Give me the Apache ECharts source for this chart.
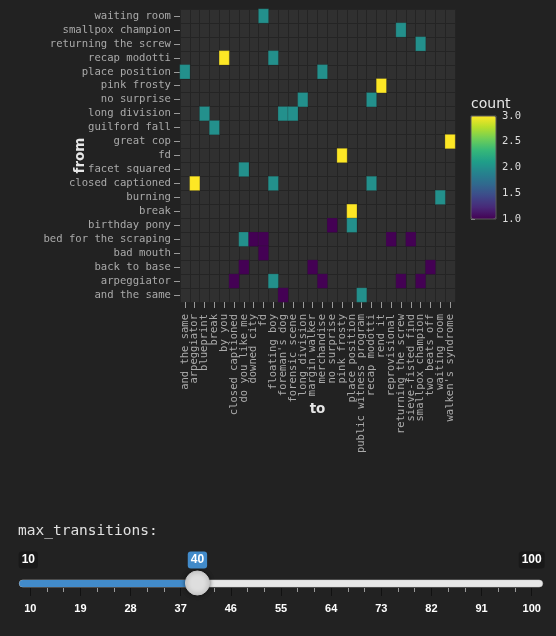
<!DOCTYPE html>
<html>
<head>
<meta charset="utf-8">
<style>
  html, body { margin: 0; padding: 0; background: #222222; }
  #chart { width: 556px; height: 636px; }
</style>
<script src="https://cdn.jsdelivr.net/npm/echarts@6/dist/echarts.min.js"></script>
</head>
<body>
<div id="chart"></div>
<script>
// ---- data ----
const toCategories = ["and the same", "arpeggiator", "blueprint", "break", "by you", "closed captioned",
  "do you like me", "downed city", "fd", "floating boy", "foreman's dog", "forensic scene",
  "long division", "margin walker", "merchandise", "no surprise", "pink frosty", "place position",
  "public witness program", "recap modotti", "rend it", "reprovisional", "returning the screw",
  "sieve-fisted find", "smallpox champion", "two beats off", "waiting room", "walken's syndrome"];

const fromCategories = ["and the same", "arpeggiator", "back to base", "bad mouth", "bed for the scraping",
  "birthday pony", "break", "burning", "closed captioned", "facet squared", "fd", "great cop",
  "guilford fall", "long division", "no surprise", "pink frosty", "place position", "recap modotti",
  "returning the screw", "smallpox champion", "waiting room"];

const transFrom = ["waiting room", "smallpox champion", "returning the screw", "recap modotti", "recap modotti",
  "place position", "place position", "pink frosty", "no surprise", "no surprise",
  "long division", "long division", "long division", "guilford fall", "great cop",
  "fd", "facet squared", "closed captioned", "closed captioned", "closed captioned",
  "burning", "break", "birthday pony", "birthday pony", "bed for the scraping",
  "bed for the scraping", "bed for the scraping", "bed for the scraping", "bed for the scraping", "bad mouth",
  "back to base", "back to base", "back to base", "arpeggiator", "arpeggiator",
  "arpeggiator", "arpeggiator", "arpeggiator", "and the same", "and the same"];

const transTo = ["fd", "returning the screw", "smallpox champion", "by you", "floating boy",
  "and the same", "merchandise", "rend it", "long division", "recap modotti",
  "blueprint", "foreman's dog", "forensic scene", "break", "walken's syndrome",
  "pink frosty", "do you like me", "arpeggiator", "floating boy", "recap modotti",
  "waiting room", "place position", "no surprise", "place position", "do you like me",
  "downed city", "fd", "reprovisional", "sieve-fisted find", "fd",
  "do you like me", "margin walker", "two beats off", "closed captioned", "floating boy",
  "merchandise", "returning the screw", "smallpox champion", "foreman's dog", "public witness program"];

const transCount = [2, 2, 2, 3, 2,
  2, 2, 3, 2, 2,
  2, 2, 2, 2, 3,
  3, 2, 3, 2, 2,
  2, 3, 1, 2, 2,
  1, 1, 1, 1, 1,
  1, 1, 1, 1, 2,
  1, 1, 1, 1, 2];

const countTicks = [1.0, 1.5, 2.0, 2.5, 3.0];

const sliderMin = 10;
const sliderMax = 100;
const sliderStep = 9;
const sliderValue = 40;
const sliderLabel = "max_transitions:";

const viridis = ['#440154', '#482878', '#3e4989', '#31688e', '#26828e', '#1f9e89', '#35b779', '#6ece58', '#b5de2b', '#fde725'];

// ---- build ----
const heatData = transFrom.map((f, i) => [toCategories.indexOf(transTo[i]), fromCategories.indexOf(f), transCount[i]]);

const mono = "'DejaVu Sans Mono', monospace";
const chart = echarts.init(document.getElementById('chart'), null, { renderer: 'canvas' });

const option = {
  backgroundColor: '#222222',
  animation: false,
  title: [
    { text: 'count', left: 471, top: 97.5, padding: 0, textStyle: { color: '#e6e6e6', fontSize: 14, fontWeight: 'normal', fontFamily: "'DejaVu Sans', sans-serif" } },
    { text: sliderLabel, left: 18, top: 523.5, padding: 0, textStyle: { color: '#e0e0e0', fontSize: 14.5, fontWeight: 'normal', fontFamily: mono } }
  ],
  grid: [
    { left: 180, top: 9, width: 275, height: 293, show: true, backgroundColor: '#303030', borderWidth: 0 },
    { left: 471, top: 116, width: 25, height: 103, show: true, backgroundColor: 'transparent', borderColor: '#5a5a5a', borderWidth: 1, z: 10 },
    { left: 30.3, top: 578, width: 501.4, height: 10, show: false }
  ],
  xAxis: [
    {
      gridIndex: 0, type: 'category', data: toCategories,
      name: 'to', nameLocation: 'middle', nameGap: 100, nameMoveOverlap: false,
      nameTextStyle: { color: '#e6e6e6', fontSize: 13.5, fontWeight: 'bold', fontFamily: "'DejaVu Sans', sans-serif" },
      axisLine: { show: false },
      axisTick: { show: true, alignWithLabel: true, length: 6, lineStyle: { color: '#9a9a9a' } },
      axisLabel: { interval: 0, rotate: 90, color: '#aaaaaa', fontSize: 10.5, fontFamily: mono, margin: 12 },
      splitLine: { show: true, interval: 0, lineStyle: { color: '#242424', width: 1 } }
    },
    { gridIndex: 1, type: 'value', show: false },
    {
      gridIndex: 2, type: 'value', min: sliderMin, max: sliderMax, interval: sliderStep,
      axisLine: { show: false },
      axisTick: { show: true, length: 8, lineStyle: { color: '#111111', width: 1 } },
      minorTick: { show: true, splitNumber: 3, length: 4, lineStyle: { color: '#9a9a9a' } },
      axisLabel: { color: '#ffffff', fontSize: 11, fontWeight: 'bold', fontFamily: "'Liberation Sans', Arial, sans-serif", margin: 15 },
      splitLine: { show: false }
    }
  ],
  yAxis: [
    {
      gridIndex: 0, type: 'category', data: fromCategories,
      name: 'from', nameLocation: 'middle', nameGap: 93, nameRotate: 90, nameMoveOverlap: false,
      nameTextStyle: { color: '#e6e6e6', fontSize: 13.5, fontWeight: 'bold', fontFamily: "'DejaVu Sans', sans-serif" },
      axisLine: { show: false },
      axisTick: { show: true, alignWithLabel: true, length: 6, lineStyle: { color: '#9a9a9a' } },
      axisLabel: { interval: 0, color: '#aaaaaa', fontSize: 10.6, fontFamily: mono, margin: 9 },
      splitLine: { show: true, interval: 0, lineStyle: { color: '#242424', width: 1 } }
    },
    {
      gridIndex: 1, type: 'value', min: countTicks[0], max: countTicks[countTicks.length - 1], interval: 0.5,
      position: 'right',
      axisLine: { show: false },
      axisTick: { show: true, length: 4, lineStyle: { color: '#aaaaaa' } },
      axisLabel: { color: '#dddddd', fontSize: 10.5, fontFamily: mono, margin: 6, formatter: v => v.toFixed(1) },
      splitLine: { show: false }
    },
    { gridIndex: 2, type: 'value', min: 0, max: 10, show: false }
  ],
  visualMap: {
    type: 'continuous', min: 1, max: 3, seriesIndex: 0,
    calculable: false, realtime: false,
    left: 471, top: 116, itemWidth: 25, itemHeight: 103, padding: 0,
    text: null, showLabel: false,
    inRange: { color: viridis },
    textStyle: { color: 'transparent' }
  },
  series: [
    {
      type: 'heatmap', xAxisIndex: 0, yAxisIndex: 0, data: heatData,
      itemStyle: { borderColor: 'rgba(40,40,40,0.5)', borderWidth: 0.5 }
    },
    {
      type: 'custom', xAxisIndex: 2, yAxisIndex: 2, data: [[sliderValue, 0]], clip: false, silent: true,
      renderItem: function (params, api) {
        const pMin = api.coord([sliderMin, 0]);
        const pMax = api.coord([sliderMax, 0]);
        const pVal = api.coord([api.value(0), 0]);
        const trackY = pMin[1] - 8;
        const ext = 11;
        const labelStyle = { fill: '#ffffff', fontSize: 12, fontWeight: 'bold', fontFamily: "'Liberation Sans', Arial, sans-serif", align: 'center', verticalAlign: 'middle' };
        return {
          type: 'group',
          children: [
            { type: 'rect', shape: { x: pMin[0] - ext, y: trackY, width: pMax[0] - pMin[0] + 2 * ext, height: 7, r: 3.5 }, style: { fill: '#e8e8e8', stroke: '#cfcfcf', lineWidth: 0.5 } },
            { type: 'rect', shape: { x: pMin[0] - ext, y: trackY, width: pVal[0] - pMin[0] + ext, height: 7, r: 3.5 }, style: { fill: '#428bca' } },
            { type: 'circle', shape: { cx: pVal[0], cy: trackY + 3, r: 12 }, style: { fill: '#dedede', stroke: '#c8c8c8', lineWidth: 1, shadowBlur: 4, shadowColor: 'rgba(0,0,0,0.5)' } },
            { type: 'text', x: pMin[0] - 2, y: 560, style: Object.assign({ text: String(sliderMin), backgroundColor: 'rgba(0,0,0,0.25)', padding: [3, 3, 2, 3], borderRadius: 3 }, labelStyle) },
            { type: 'text', x: pVal[0], y: 560, style: Object.assign({ text: String(api.value(0)), backgroundColor: '#428bca', padding: [3, 3, 2, 3], borderRadius: 3 }, labelStyle) },
            { type: 'text', x: pMax[0], y: 560, style: Object.assign({ text: String(sliderMax), backgroundColor: 'rgba(0,0,0,0.25)', padding: [3, 3, 2, 3], borderRadius: 3 }, labelStyle) }
          ]
        };
      }
    }
  ]
};
chart.setOption(option);
</script>
</body>
</html>
